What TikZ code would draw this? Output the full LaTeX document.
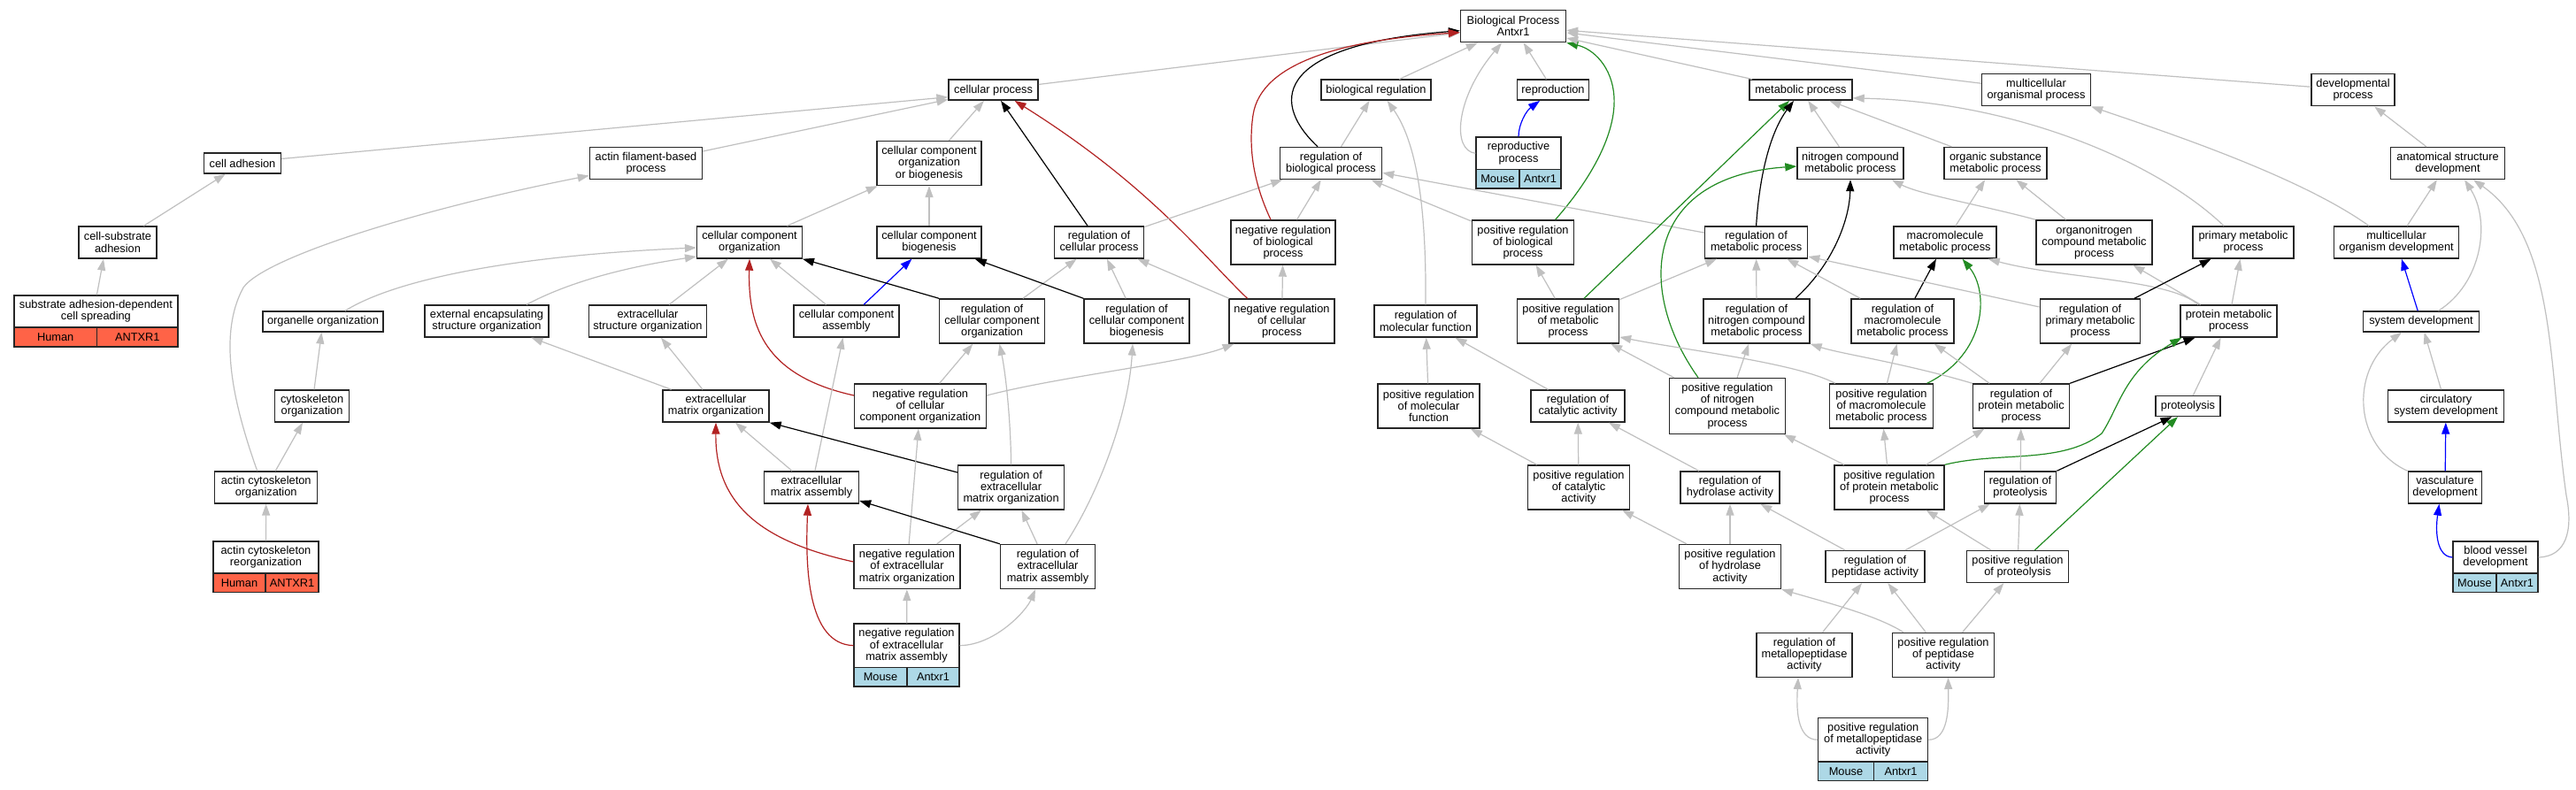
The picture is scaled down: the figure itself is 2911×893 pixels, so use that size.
\documentclass[tikz,border=0pt]{standalone}
\usepackage{fontspec}
\setmainfont{Liberation Sans}
\usetikzlibrary{arrows.meta}
\definecolor{edgegray}{RGB}{192,192,192}
\definecolor{firebrickc}{RGB}{178,34,34}
\definecolor{forestgreenc}{RGB}{34,139,34}
\definecolor{tomatoc}{RGB}{255,99,71}
\definecolor{lightbluec}{RGB}{173,216,230}
\newcommand{\gonode}[6]{\node[gobox,minimum width=#4pt,minimum height=#5pt] (#1) at (#2,#3) {#6};}
\newcommand{\gocell}[7]{\node[gocell,fill=#7,minimum width=#4pt,minimum height=#5pt] (#1) at (#2,#3) {#6};}
\tikzset{
  gobox/.style={draw=black!85,line width=1.4pt,fill=white,rectangle,inner sep=0pt,align=center,font=\fontsize{12.8pt}{13.3pt}\selectfont},
  gocell/.style={draw=black!85,line width=1.4pt,rectangle,inner sep=0pt,align=center,font=\fontsize{12.8pt}{13.3pt}\selectfont},
  edgebase/.style={line width=1.2pt,-{Triangle[length=13pt,width=9pt]}},
  isaedge/.style={edgebase,draw=edgegray},
  regedge/.style={edgebase,draw=black},
  negedge/.style={edgebase,draw=firebrickc},
  posedge/.style={edgebase,draw=forestgreenc},
  partedge/.style={edgebase,draw=blue}
}
\begin{document}
\begin{tikzpicture}[x=1pt,y=-1pt]
\useasboundingbox (0,0) rectangle (2911,893);
\fill[white] (0,0) rectangle (2911,893);
% ---------- nodes ----------
\gonode{bp}{1710}{29.7}{119}{36}{Biological Process\\Antxr1}
\gonode{cp}{1122.6}{101.7}{101}{23}{cellular process}
\gonode{br}{1555}{101.7}{124}{23}{biological regulation}
\gonode{rep}{1755}{101.7}{81.5}{23}{reproduction}
\gonode{mp}{2035}{101.7}{116}{23}{metabolic process}
\gonode{mop}{2301}{101.8}{123}{36}{multicellular\\organismal process}
\gonode{dp}{2659}{101.8}{94}{36}{developmental\\process}
\gonode{ca}{274}{184.5}{87}{23}{cell adhesion}
\gonode{afbp}{730}{184.5}{127}{36}{actin filament-based\\process}
\gonode{ccob}{1050}{184.5}{118}{50}{cellular component\\organization\\or biogenesis}
\gonode{rbp}{1504}{184.5}{115}{36}{regulation of\\biological process}
\gonode{rp}{1716}{173.3}{96}{36.7}{reproductive\\process}
\gonode{ncmp}{2091}{184.5}{120}{36}{nitrogen compound\\metabolic process}
\gonode{osmp}{2255}{184.5}{116}{36}{organic substance\\metabolic process}
\gonode{asd}{2766}{184.5}{128.5}{36}{anatomical structure\\development}
\gonode{csa}{133}{274}{88}{36}{cell-substrate\\adhesion}
\gonode{cco}{847}{274}{118.6}{36}{cellular component\\organization}
\gonode{ccb}{1050}{274}{118}{36}{cellular component\\biogenesis}
\gonode{rcp}{1242}{274}{101}{36}{regulation of\\cellular process}
\gonode{nrbp}{1450}{274}{118}{50}{negative regulation\\of biological\\process}
\gonode{prbp}{1721}{274}{115}{50}{positive regulation\\of biological\\process}
\gonode{rmp}{1984.6}{274}{116}{36}{regulation of\\metabolic process}
\gonode{mmp}{2198}{274}{116}{36}{macromolecule\\metabolic process}
\gonode{oncmp}{2366.5}{274}{131}{50}{organonitrogen\\compound metabolic\\process}
\gonode{pmp}{2535}{274}{114}{36}{primary metabolic\\process}
\gonode{mod}{2708}{274}{141.5}{36}{multicellular\\organism development}
\gonode{sad}{108.4}{352}{185}{36}{substrate adhesion-dependent\\cell spreading}
\gonode{oo}{365}{363.5}{136}{23}{organelle organization}
\gonode{eeso}{550}{363}{140}{36}{external encapsulating\\structure organization}
\gonode{eso}{732}{363}{133}{36}{extracellular\\structure organization}
\gonode{cca}{956.5}{363}{119}{36}{cellular component\\assembly}
\gonode{rcco}{1121}{363}{118.5}{50}{regulation of\\cellular component\\organization}
\gonode{rccb}{1284.5}{363}{119}{50}{regulation of\\cellular component\\biogenesis}
\gonode{nrcp}{1448.5}{363}{119}{50}{negative regulation\\of cellular\\process}
\gonode{rmf}{1611}{363}{116}{36}{regulation of\\molecular function}
\gonode{prmp}{1772}{363}{115}{50}{positive regulation\\of metabolic\\process}
\gonode{rncmp}{1985}{363}{120}{50}{regulation of\\nitrogen compound\\metabolic process}
\gonode{rmmp}{2150}{363}{116}{50}{regulation of\\macromolecule\\metabolic process}
\gonode{rpmp}{2362}{363}{113.5}{50}{regulation of\\primary metabolic\\process}
\gonode{ptmp}{2518.5}{363}{109}{36}{protein metabolic\\process}
\gonode{sd}{2736}{363.5}{130.5}{23}{system development}
\gonode{co}{352.6}{459}{84}{36}{cytoskeleton\\organization}
\gonode{emo}{809}{459}{120}{36}{extracellular\\matrix organization}
\gonode{nrcco}{1040}{459}{148.7}{50}{negative regulation\\of cellular\\component organization}
\gonode{prmf}{1614.5}{459}{115}{50}{positive regulation\\of molecular\\function}
\gonode{rca}{1783}{459}{106}{36}{regulation of\\catalytic activity}
\gonode{prncmp}{1952}{459}{130.6}{63}{positive regulation\\of nitrogen\\compound metabolic\\process}
\gonode{prmmp}{2126}{459}{117}{50}{positive regulation\\of macromolecule\\metabolic process}
\gonode{rptmp}{2284}{459}{109}{50}{regulation of\\protein metabolic\\process}
\gonode{prot}{2472.5}{459}{73}{23}{proteolysis}
\gonode{csd}{2764}{459}{130.5}{36}{circulatory\\system development}
\gonode{aco}{300.7}{551}{116}{36}{actin cytoskeleton\\organization}
\gonode{ema}{917}{551}{107}{36}{extracellular\\matrix assembly}
\gonode{remo}{1142.6}{551}{120}{50}{regulation of\\extracellular\\matrix organization}
\gonode{prca}{1784}{551}{115}{50}{positive regulation\\of catalytic\\activity}
\gonode{rha}{1955}{551}{112}{36}{regulation of\\hydrolase activity}
\gonode{prpmp}{2135}{551}{124}{50}{positive regulation\\of protein metabolic\\process}
\gonode{rprot}{2283}{551}{81.4}{36}{regulation of\\proteolysis}
\gonode{vd}{2763}{551}{83.5}{36}{vasculature\\development}
\gonode{acr}{300.5}{630}{119}{36}{actin cytoskeleton\\reorganization}
\gonode{nremo}{1025}{640.5}{120}{50}{negative regulation\\of extracellular\\matrix organization}
\gonode{rema}{1184}{640.5}{107}{50}{regulation of\\extracellular\\matrix assembly}
\gonode{prha}{1955}{640.5}{115}{50}{positive regulation\\of hydrolase\\activity}
\gonode{rpa}{2119}{640.5}{112}{36}{regulation of\\peptidase activity}
\gonode{prprot}{2280}{640.5}{114.5}{36}{positive regulation\\of proteolysis}
\gonode{bvd}{2820}{630}{96}{36}{blood vessel\\development}
\gonode{nrema}{1024.5}{729.7}{119}{49.5}{negative regulation\\of extracellular\\matrix assembly}
\gonode{rmpa}{2039}{740.3}{108}{50}{regulation of\\metallopeptidase\\activity}
\gonode{prpa}{2196}{740.3}{115}{50}{positive regulation\\of peptidase\\activity}
\gonode{prmpa}{2116.7}{836.3}{124}{49.3}{positive regulation\\of metallopeptidase\\activity}
% ---------- annotation cells ----------
\gocell{sadsp}{62.7}{381}{93.8}{22}{Human}{tomatoc}
\gocell{sadgn}{155.3}{381}{91.4}{22}{ANTXR1}{tomatoc}
\gocell{acrsp}{270.5}{658.7}{59}{21.3}{Human}{tomatoc}
\gocell{acrgn}{330}{658.7}{60}{21.3}{ANTXR1}{tomatoc}
\gocell{rpsp}{1692.5}{202.3}{49}{21.3}{Mouse}{lightbluec}
\gocell{rpgn}{1740.5}{202.3}{47}{21.3}{Antxr1}{lightbluec}
\gocell{nremasp}{995}{765.2}{60}{21.7}{Mouse}{lightbluec}
\gocell{nremagn}{1054.5}{765.2}{59}{21.7}{Antxr1}{lightbluec}
\gocell{prmpasp}{2086}{871.8}{62.7}{21.7}{Mouse}{lightbluec}
\gocell{prmpagn}{2148}{871.8}{61.3}{21.7}{Antxr1}{lightbluec}
\gocell{bvdsp}{2796.4}{658.7}{48.8}{21.3}{Mouse}{lightbluec}
\gocell{bvdgn}{2844.4}{658.7}{47.2}{21.3}{Antxr1}{lightbluec}
% ---------- edges: left part ----------
\draw[isaedge] ([yshift=5pt]ca.east) -- ([yshift=-8pt]cp.west);
\draw[isaedge] (csa) -- (ca);
\draw[isaedge] ([xshift=1pt]sad.north) -- ([xshift=-16pt]csa.south);
\draw[isaedge] (afbp) -- (cp);
\draw[isaedge] ([xshift=-10pt]aco.north) .. controls (265,460) and (245,380) .. (275,325) .. controls (300,290) and (480,235) .. ([yshift=-14pt]afbp.west);
\draw[isaedge] ([xshift=25pt]oo.north) .. controls (440,320) and (560,290) .. ([yshift=-6pt]cco.west);
\draw[isaedge] ([xshift=45pt]eeso.north) .. controls (650,315) and (720,300) .. ([yshift=-16pt]cco.west);
\draw[isaedge] (emo) -- (eeso);
\draw[isaedge] (emo) -- (eso);
\draw[isaedge] (eso) -- (cco);
\draw[isaedge] (co) -- (oo);
\draw[isaedge] (aco) -- (co);
\draw[isaedge] (acr) -- (aco);
\draw[isaedge] (cp) -- (bp);
\draw[isaedge] (ccob) -- (cp);
\draw[isaedge] (cco) -- (ccob);
\draw[isaedge] (ccb) -- (ccob);
\draw[regedge] (rcp) -- (cp);
\draw[negedge] ([xshift=-39pt]nrcp.north) .. controls (1360,290) and (1300,210) .. ([xshift=24pt]cp.south);
\draw[isaedge] (rcp) -- (rbp);
\draw[regedge] ([xshift=-15pt]rbp.north) .. controls (1430,110) and (1450,50) .. ([yshift=-5pt]bp.west);
\draw[negedge] ([xshift=-14pt]nrbp.north) .. controls (1418,210) and (1410,170) .. (1416,130) .. controls (1425,70) and (1520,45) .. ([yshift=-7pt]bp.west);
\draw[isaedge] (nrbp) -- (rbp);
\draw[isaedge] (cca) -- (cco);
\draw[partedge] (cca) -- (ccb);
\draw[regedge] (rcco.north west) -- (cco.south east);
\draw[isaedge] (rcco) -- (rcp);
\draw[regedge] (rccb.north west) -- ([xshift=-8pt]ccb.south east);
\draw[isaedge] (rccb) -- (rcp);
\draw[isaedge] (nrcp) -- (rcp);
\draw[isaedge] (nrcp) -- (nrbp);
\draw[isaedge] (nrcco) -- (rcco);
\draw[isaedge] ([yshift=12pt]nrcco.east) .. controls (1200,425) and (1340,410) .. ([xshift=-54pt]nrcp.south);
\draw[negedge] ([yshift=12pt]nrcco.west) .. controls (865,425) and (845,370) .. (cco.south);
\draw[isaedge] (ema) -- (cca);
\draw[isaedge] (remo.north) .. controls (1142,470) and (1136,420) .. ([xshift=8.5pt]rcco.south);
\draw[isaedge] ([xshift=20pt]rema.north) .. controls (1240,560) and (1275,470) .. ([xshift=-4.5pt]rccb.south);
\draw[isaedge] (ema) -- (emo);
\draw[regedge] ([yshift=17pt]remo.west) -- (emo.south east);
\draw[isaedge] (nremo) -- (nrcco);
\draw[isaedge] (nremo) -- (remo);
\draw[negedge] ([yshift=5.5pt]nremo.west) .. controls (860,612) and (808,570) .. (emo.south);
\draw[regedge] (rema.north west) -- ([yshift=-15pt]ema.east);
\draw[isaedge] (rema) -- (remo);
\draw[isaedge] (nrema) -- (nremo);
\draw[isaedge] (nrema.east) .. controls (1125,729) and (1160,690) .. ([xshift=-14pt]rema.south);
\draw[negedge] (nrema.west) .. controls (912,728) and (910,640) .. ([xshift=-4pt]ema.south);
% ---------- edges: middle part ----------
\draw[isaedge] (br) -- (bp);
\draw[isaedge] (rp.west) .. controls (1640,170) and (1645,110) .. ([xshift=-13pt]bp.south);
\draw[isaedge] (rep) -- (bp);
\draw[partedge] (rp.north) .. controls (1716,140) and (1725,125) .. ([xshift=-15pt]rep.south);
\draw[posedge] ([xshift=36.6pt]prbp.north) .. controls (1800,200) and (1826,150) .. (1824,110) .. controls (1822,75) and (1800,55) .. (bp.south east);
\draw[isaedge] (mp) -- (bp);
\draw[isaedge] (mop) -- (bp);
\draw[isaedge] (dp) -- (bp);
\draw[isaedge] (rbp) -- (br);
\draw[isaedge] (prbp) -- (rbp);
\draw[isaedge] (rmp) -- (rbp);
\draw[isaedge] (rmf.north) .. controls (1612,230) and (1600,160) .. ([xshift=12.7pt]br.south);
\draw[isaedge] (prmp) -- (prbp);
\draw[posedge] ([xshift=18pt]prmp.north) -- ([xshift=-13pt]mp.south);
\draw[isaedge] (prmp) -- (rmp);
\draw[regedge] (rmp.north) .. controls (1988,200) and (2000,150) .. ([xshift=-8pt]mp.south);
\draw[isaedge] (ncmp) -- (mp);
\draw[isaedge] (osmp) -- (mp);
\draw[isaedge] ([xshift=-22pt]pmp.north) .. controls (2440,185) and (2280,115) .. ([yshift=3pt]mp.south east);
\draw[isaedge] (rncmp) -- (rmp);
\draw[regedge] ([xshift=44pt]rncmp.north) .. controls (2070,300) and (2090,250) .. (ncmp.south);
\draw[posedge] ([xshift=-33pt]prncmp.north) .. controls (1850,330) and (1855,200) .. ([yshift=-3.5pt]ncmp.west);
\draw[isaedge] (prncmp) -- (prmp);
\draw[isaedge] (prncmp) -- (rncmp);
\draw[isaedge] (rmmp) -- (rmp);
\draw[regedge] (rmmp) -- (mmp);
\draw[isaedge] ([xshift=7pt]prmmp.north west) .. controls (2030,410) and (1900,395) .. ([yshift=-18pt]prmp.east);
\draw[isaedge] (prmmp) -- (rmmp);
\draw[posedge] ([xshift=51.7pt]prmmp.north) .. controls (2245,400) and (2248,330) .. ([xshift=19.6pt]mmp.south);
\draw[isaedge] (mmp) -- (osmp);
\draw[isaedge] (oncmp) -- (osmp);
\draw[isaedge] (oncmp.north west) .. controls (2240,232) and (2170,220) .. ([xshift=-14pt]ncmp.south east);
\draw[isaedge] ([xshift=-34.5pt]ptmp.north) .. controls (2450,315) and (2330,315) .. ([xshift=-10pt]mmp.south east);
\draw[isaedge] (ptmp) -- (oncmp);
\draw[isaedge] (ptmp) -- (pmp);
\draw[regedge] (rpmp) -- (pmp);
\draw[isaedge] ([yshift=16pt]rpmp.west) -- ([yshift=-16pt]rmp.east);
\draw[isaedge] (rptmp) -- (rpmp);
\draw[regedge] (rptmp.north east) -- ([xshift=-38pt]ptmp.south);
\draw[isaedge] (rptmp) -- (rmmp);
\draw[isaedge] (rptmp.north west) .. controls (2150,410) and (2080,400) .. (rncmp.south east);
\draw[isaedge] (prpmp) -- (rptmp);
\draw[posedge] (prpmp.north east) .. controls (2260,510) and (2330,525) .. (2375,490) .. controls (2395,460) and (2400,420) .. ([xshift=2pt]ptmp.south west);
\draw[isaedge] (prpmp) -- (prmmp);
\draw[isaedge] (prpmp) -- (prncmp);
\draw[isaedge] (rprot) -- (rptmp);
\draw[regedge] (rprot.north east) -- ([xshift=-18pt]prot.south);
\draw[isaedge] (prot) -- (ptmp);
\draw[posedge] ([xshift=19.4pt]prprot.north) -- ([xshift=-11.5pt]prot.south);
\draw[isaedge] (prprot) -- (rprot);
\draw[isaedge] (prprot) -- (prpmp);
\draw[isaedge] (rpa) -- (rprot);
\draw[isaedge] (rpa) -- (rha);
\draw[isaedge] (prmf) -- (rmf);
\draw[isaedge] (rca) -- (rmf);
\draw[isaedge] (prca) -- (rca);
\draw[isaedge] (prca) -- (prmf);
\draw[isaedge] (rha) -- (rca);
\draw[isaedge] (prha) -- (prca);
\draw[isaedge] (prha) -- (rha);
\draw[isaedge] (rmpa) -- (rpa);
\draw[isaedge] ([xshift=13pt]prpa.north west) .. controls (2120,695) and (2060,680) .. (prha.south east);
\draw[isaedge] (prpa) -- (rpa);
\draw[isaedge] (prpa) -- (prprot);
\draw[isaedge] (prmpa.west) .. controls (2030,836) and (2030,800) .. ([xshift=-7pt]rmpa.south);
\draw[isaedge] (prmpa.east) .. controls (2202,836) and (2202,800) .. ([xshift=5.5pt]prpa.south);
% ---------- edges: right part ----------
\draw[isaedge] ([xshift=-31pt]mod.north) .. controls (2600,200) and (2450,150) .. (mop.south east);
\draw[isaedge] (mod) -- (asd);
\draw[isaedge] (asd) -- (dp);
\draw[partedge] (sd) -- (mod);
\draw[isaedge] ([xshift=19.5pt]sd.north) .. controls (2805,320) and (2815,250) .. ([xshift=19pt]asd.south);
\draw[isaedge] (csd) -- (sd);
\draw[isaedge] (vd.north west) .. controls (2660,505) and (2655,420) .. ([xshift=-22pt]sd.south);
\draw[partedge] (vd) -- (csd);
\draw[partedge] (bvd.west) .. controls (2753,629) and (2752,600) .. ([xshift=-6.6pt]vd.south);
\draw[isaedge] (bvd.east) .. controls (2900,629) and (2908,600) .. (2900,560) .. controls (2880,420) and (2890,270) .. ([xshift=29pt]asd.south);
\end{tikzpicture}
\end{document}
